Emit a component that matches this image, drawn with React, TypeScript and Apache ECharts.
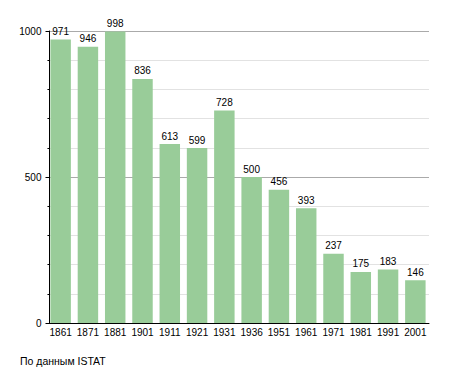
import React, { useEffect, useRef } from "react";
import * as echarts from "echarts";

const categories = ["1861", "1871", "1881", "1901", "1911", "1921", "1931", "1936", "1951", "1961", "1971", "1981", "1991", "2001"];
const population = [971, 946, 998, 836, 613, 599, 728, 500, 456, 393, 237, 175, 183, 146];
const yTicks = [0, 500, 1000];
const sourceText = "По данным ISTAT";

const FONT = "Liberation Sans, Arial, sans-serif";

export default function App() {
  const ref = useRef<HTMLDivElement>(null);
  useEffect(() => {
    if (!ref.current) return;
    const chart = echarts.init(ref.current, null, { renderer: "svg" });
    chart.setOption({
      animation: false,
      backgroundColor: "#ffffff",
      textStyle: { fontFamily: FONT },
      grid: { left: 47, right: 26, top: 31, bottom: 50, containLabel: false },
      graphic: [
        {
          type: "text",
          left: 20,
          top: 355,
          style: { text: sourceText, fontSize: 10.5, fontFamily: FONT, fill: "#000" },
        },
      ],
      xAxis: {
        type: "category",
        data: categories,
        axisLine: { show: true, lineStyle: { color: "#000", width: 1 } },
        axisTick: { show: false },
        axisLabel: { color: "#000", fontSize: 10, margin: 4, fontFamily: FONT, interval: 0 },
        splitLine: { show: false },
      },
      yAxis: {
        type: "value",
        min: 0,
        max: 1000,
        interval: 500,
        offset: -2.5,
        axisLine: { show: true, lineStyle: { color: "#000", width: 1 } },
        axisTick: { show: true, length: 4, lineStyle: { color: "#000" } },
        minorTick: { show: true, splitNumber: 5, length: 2, lineStyle: { color: "#000" } },
        axisLabel: {
          color: "#000",
          fontSize: 10,
          margin: 8,
          fontFamily: FONT,
          formatter: (v: number) => (yTicks.includes(v) ? String(v) : ""),
        },
        splitLine: { show: true, lineStyle: { color: "#aaaaaa", width: 1 } },
        minorSplitLine: { show: true, lineStyle: { color: "#e2e2e2", width: 1 } },
      },
      series: [
        {
          type: "bar",
          data: population,
          barCategoryGap: "25%",
          itemStyle: { color: "#99cc99" },
          label: {
            show: true,
            position: "top",
            distance: 3,
            color: "#000",
            fontSize: 10,
            fontFamily: FONT,
          },
          z: 3,
        },
      ],
    });
    return () => chart.dispose();
  }, []);
  return <div ref={ref} style={{ width: 455, height: 373, position: "absolute", left: 0, top: 0 }} />;
}
